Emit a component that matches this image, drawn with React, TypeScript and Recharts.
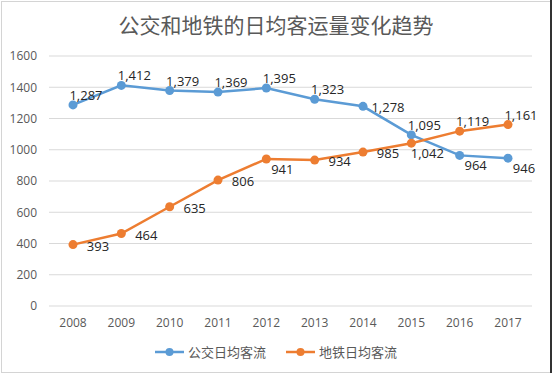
import React from "react";
import { LineChart, Line, XAxis, YAxis, CartesianGrid } from "recharts";

const years = ["2008", "2009", "2010", "2011", "2012", "2013", "2014", "2015", "2016", "2017"];
const busDaily = [1287, 1412, 1379, 1369, 1395, 1323, 1278, 1095, 964, 946];
const metroDaily = [393, 464, 635, 806, 941, 934, 985, 1042, 1119, 1161];
const yTicks = [0, 200, 400, 600, 800, 1000, 1200, 1400, 1600];

// where each point's value label sits, as in the original
type Place = "above" | "right" | "below";
const busLabelPlace: Place[] = ["above", "above", "above", "above", "above", "above", "right", "above", "below", "below"];
const metroLabelPlace: Place[] = ["right", "right", "right", "right", "below", "right", "right", "below", "above", "above"];

const placeOffset: Record<Place, { dx: number; dy: number }> = {
  above: { dx: 13, dy: -10 },
  right: { dx: 25, dy: 1 },
  below: { dx: 16, dy: 10 },
};

const BLUE = "#5B9BD5";
const ORANGE = "#ED7D31";
const TEXT = "#595959";
const FONT = "'Open Sans', 'Noto Sans CJK SC', sans-serif";

const data = years.map((year, i) => ({ year, bus: busDaily[i], metro: metroDaily[i] }));

const makeLabel = (places: Place[]) => (props: any) => {
  const { x, y, value, index } = props;
  const off = placeOffset[places[index]];
  return (
    <text
      x={x + off.dx}
      y={y + off.dy}
      textAnchor="middle"
      dominantBaseline="central"
      fontSize={13}
      fill="#262626"
      fontFamily={FONT}
    >
      {Number(value).toLocaleString("en-US")}
    </text>
  );
};

const LegendItem = ({ color, label }: { color: string; label: string }) => (
  <div style={{ display: "flex", alignItems: "center", gap: 4 }}>
    <svg width={29} height={10}>
      <line x1={0} y1={5} x2={29} y2={5} stroke={color} strokeWidth={2.5} />
      <circle cx={14.5} cy={5} r={4} fill={color} />
    </svg>
    <span>{label}</span>
  </div>
);

const App: React.FC = () => (
  <div style={{ position: "fixed", left: 0, top: 0, width: 552, height: 375, background: "#fff", fontFamily: FONT }}>
    <div style={{ position: "absolute", left: 1, top: 1, width: 548, height: 370, border: "1px solid #d4d4d4" }} />
    <div style={{ position: "absolute", left: 550, top: 0, width: 2, height: 373, background: "#333" }} />
    <div
      style={{
        position: "absolute",
        left: 0,
        top: 10,
        width: 552,
        textAlign: "center",
        fontSize: 21,
        color: TEXT,
        fontFamily: "'Noto Sans CJK SC', sans-serif",
        lineHeight: "28px",
      }}
    >
      公交和地铁的日均客运量变化趋势
    </div>
    <div style={{ position: "absolute", left: 0, top: 0 }}>
      <LineChart width={552} height={375} data={data} margin={{ top: 56, right: 20, bottom: 39, left: 0 }}>
        <CartesianGrid vertical={false} stroke="#d9d9d9" />
        <XAxis
          dataKey="year"
          axisLine={false}
          tickLine={false}
          height={30}
          tickMargin={6}
          padding={{ left: 24, right: 24 }}
          tick={{ fill: TEXT, fontSize: 12, fontFamily: FONT }}
        />
        <YAxis
          domain={[0, 1600]}
          ticks={yTicks}
          axisLine={false}
          tickLine={false}
          width={49}
          tickMargin={6}
          tick={{ fill: TEXT, fontSize: 12, fontFamily: FONT }}
        />
        <Line
          dataKey="bus"
          name="公交日均客流"
          stroke={BLUE}
          strokeWidth={2.5}
          dot={{ r: 4.5, fill: BLUE, stroke: BLUE, strokeWidth: 0 }}
          label={makeLabel(busLabelPlace)}
          isAnimationActive={false}
        />
        <Line
          dataKey="metro"
          name="地铁日均客流"
          stroke={ORANGE}
          strokeWidth={2.5}
          dot={{ r: 4.5, fill: ORANGE, stroke: ORANGE, strokeWidth: 0 }}
          label={makeLabel(metroLabelPlace)}
          isAnimationActive={false}
        />
      </LineChart>
    </div>
    <div
      style={{
        position: "absolute",
        left: 0,
        top: 343,
        width: 552,
        display: "flex",
        justifyContent: "center",
        gap: 20,
        fontSize: 13,
        color: TEXT,
        fontFamily: "'Noto Sans CJK SC', sans-serif",
        lineHeight: "18px",
      }}
    >
      <LegendItem color={BLUE} label="公交日均客流" />
      <LegendItem color={ORANGE} label="地铁日均客流" />
    </div>
  </div>
);

export default App;
